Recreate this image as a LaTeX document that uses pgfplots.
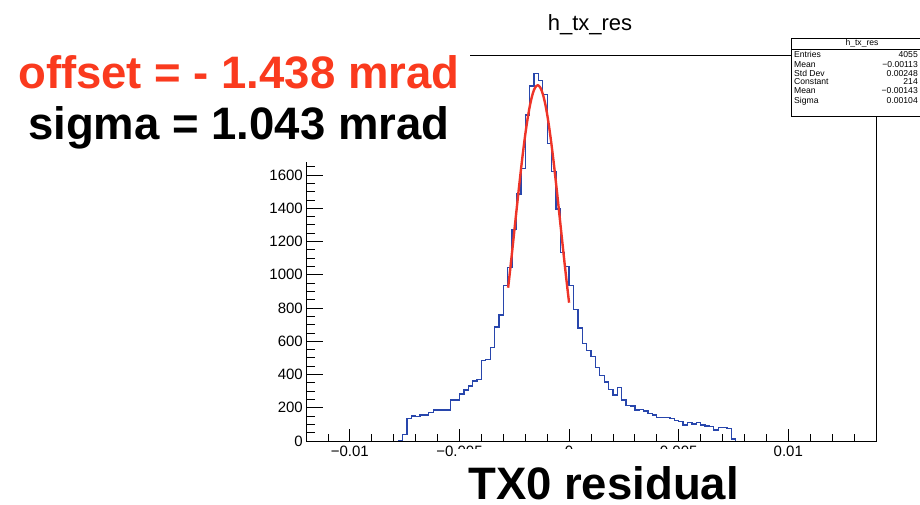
\documentclass[border=0pt]{standalone}
\usepackage{fontspec}
\setmainfont{Liberation Sans}
\usepackage{pgfplots}
\pgfplotsset{compat=1.18}
\usepackage{pgfplotstable}

\definecolor{histblue}{RGB}{40,70,172}
\definecolor{fitred}{RGB}{238,52,40}
\definecolor{offsetred}{RGB}{250,58,30}

% TX0 residual histogram: left bin edge and bin content (bin width 0.0002)
\pgfplotstableread{
edge count
-0.0078 0
-0.0076 40
-0.0074 137
-0.0072 150
-0.0070 146
-0.0068 156
-0.0066 156
-0.0064 173
-0.0062 186
-0.0060 186
-0.0058 186
-0.0056 186
-0.0054 247
-0.0052 247
-0.0050 283
-0.0048 307
-0.0046 331
-0.0044 360
-0.0042 370
-0.0040 484
-0.0038 490
-0.0036 561
-0.0034 686
-0.0032 758
-0.0030 934
-0.0028 1045
-0.0026 1273
-0.0024 1486
-0.0022 1640
-0.0020 1961
-0.0018 2135
-0.0016 2212
-0.0014 2167
-0.0012 2085
-0.0010 1790
-0.0008 1620
-0.0006 1395
-0.0004 1133
-0.0002 1048
0.0000 934
0.0002 790
0.0004 680
0.0006 585
0.0008 545
0.0010 507
0.0012 442
0.0014 395
0.0016 355
0.0018 311
0.0020 277
0.0022 323
0.0024 247
0.0026 215
0.0028 210
0.0030 186
0.0032 190
0.0034 180
0.0036 167
0.0038 156
0.0040 142
0.0042 142
0.0044 142
0.0046 137
0.0048 122
0.0050 116
0.0052 96
0.0054 110
0.0056 102
0.0058 110
0.0060 96
0.0062 90
0.0064 86
0.0066 66
0.0068 82
0.0070 82
0.0072 75
0.0074 12
0.0076 0
}\residual

\newcommand{\tickfont}{\fontsize{15bp}{18bp}\selectfont}
\newcommand{\bigfont}{\fontsize{45.5bp}{50bp}\selectfont\bfseries}
\newcommand{\statfont}{\fontsize{8.6bp}{9bp}\selectfont}

\begin{document}
\begin{tikzpicture}[x=1bp,y=1bp]
\useasboundingbox (0,0) rectangle (920,505);

% frame, y ticks, histogram and gaussian fit
\begin{axis}[
  at={(306bp,64bp)}, anchor=south west,
  scale only axis, width=570bp, height=386bp,
  xmin=-0.012, xmax=0.014, ymin=0, ymax=2322,
  axis line style={line width=0.8bp},
  xtick=\empty,
  ytick={0,200,400,600,800,1000,1200,1400,1600,1800,2000,2200},
  yticklabels={0,200,400,600,800,1000,1200,1400,1600,,,},
  minor y tick num=3,
  ytick pos=left,
  tick align=inside,
  major tick length=17bp, minor tick length=9bp,
  tick style={black, line width=0.8bp},
  yticklabel style={font=\tickfont, inner sep=0pt, xshift=-3bp},
  scaled x ticks=false, scaled y ticks=false,
]
\addplot[const plot, histblue, line width=1.3bp] table[x=edge, y=count] {\residual};
\addplot[fitred, line width=2.4bp, smooth] coordinates {
  (-0.00278,922) (-0.0027,1015) (-0.0026,1137) (-0.0025,1261) (-0.0024,1385)
  (-0.0023,1508) (-0.0022,1627) (-0.0021,1739) (-0.0020,1842) (-0.0019,1932)
  (-0.0018,2009) (-0.0017,2069) (-0.0016,2112) (-0.0015,2135) (-0.00143,2140)
  (-0.0014,2139) (-0.0013,2123) (-0.0012,2088) (-0.0011,2035) (-0.0010,1965)
  (-0.0009,1879) (-0.0008,1781) (-0.0007,1673) (-0.0006,1556) (-0.0005,1435)
  (-0.0004,1310) (-0.0003,1186) (-0.0002,1063) (-0.0001,945) (0.0,832)
};
\end{axis}

% x axis ticks and labels
\begin{axis}[
  at={(306bp,64bp)}, anchor=south west,
  scale only axis, width=570bp, height=386bp,
  xmin=-0.012, xmax=0.014, ymin=0, ymax=2322,
  axis x line*=bottom, hide y axis,
  axis line style={line width=0.8bp, -},
  xtick={-0.01,-0.005,0,0.005,0.01},
  xticklabels={−0.01,−0.005,0,0.005,0.01},
  minor xtick={-0.011,-0.009,-0.008,-0.007,-0.006,-0.004,-0.003,-0.002,-0.001,0.001,0.002,0.003,0.004,0.006,0.007,0.008,0.009,0.011,0.012,0.013},
  tick align=inside,
  major tick length=12bp, minor tick length=7bp,
  tick style={black, line width=0.8bp},
  xticklabel style={font=\tickfont, inner sep=0pt, yshift=-5bp},
  scaled x ticks=false,
]
\end{axis}

% title
\node[anchor=base, font=\fontsize{22bp}{26bp}\selectfont, inner sep=0pt] at (590,474) {h\_tx\_res};

% annotation panels
\fill[white] (0,343) rectangle (470,505);
\fill[white] (458,0) rectangle (760,56);
\node[anchor=base west, font=\bigfont, text=offsetred, inner sep=0pt] at (18,416) {offset = - 1.438 mrad};
\node[anchor=base west, font=\bigfont, inner sep=0pt] at (28,365) {sigma = 1.043 mrad};
\node[anchor=base west, font=\bigfont, inner sep=0pt] at (468,5) {TX0 residual};

% statistics box
\begin{scope}
\clip (0,0) rectangle (920,505);
\draw[fill=white, line width=0.7bp] (791,389) rectangle (933,467);
\draw[line width=0.6bp] (791,456) -- (933,456);
\node[font=\statfont, inner sep=0pt] at (862,461.5) {h\_tx\_res};
\foreach \yy/\lab/\val in {447/Entries/4055, 437.7/Mean/−0.00113, 428.7/Std Dev/0.00248,
    420.3/Constant/214, 411/Mean/−0.00143, 401.3/Sigma/0.00104} {
  \node[font=\statfont, anchor=base west, inner sep=0pt] at (794,\yy) {\lab};
  \node[font=\statfont, anchor=base east, inner sep=0pt] at (918,\yy) {\val};
}
\end{scope}
\end{tikzpicture}
\end{document}
